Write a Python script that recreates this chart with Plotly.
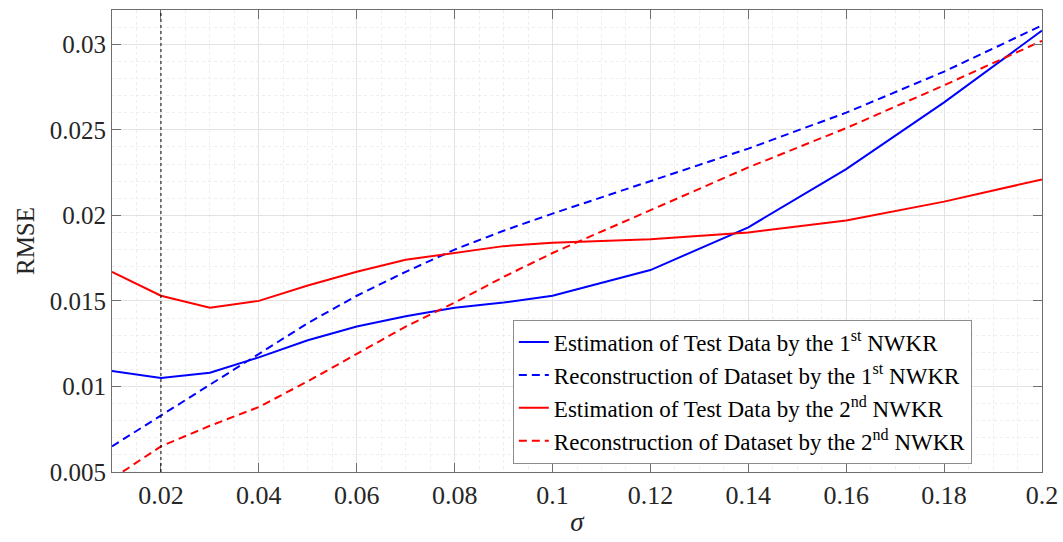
import plotly.graph_objects as go

# Kernel bandwidth values
sigma = [0.01, 0.02, 0.03, 0.04, 0.05, 0.06, 0.07, 0.08, 0.09, 0.10,
         0.12, 0.14, 0.16, 0.18, 0.20]

# RMSE of each NWKR stage
est_test_1st = [0.0109, 0.0105, 0.0108, 0.0117, 0.0127, 0.0135, 0.0141, 0.0146,
                0.0149, 0.0153, 0.0168, 0.0193, 0.0227, 0.0266, 0.0308]
recon_data_1st = [0.0065, 0.0083, 0.0101, 0.0119, 0.0137, 0.0153, 0.0167, 0.0180,
                  0.0191, 0.0201, 0.0220, 0.0239, 0.0260, 0.0284, 0.0311]
est_test_2nd = [0.0167, 0.0153, 0.0146, 0.0150, 0.0159, 0.0167, 0.0174, 0.0178,
                0.0182, 0.0184, 0.0186, 0.0190, 0.0197, 0.0208, 0.0221]
recon_data_2nd = [0.0046, 0.0065, 0.0077, 0.0088, 0.0103, 0.0119, 0.0135, 0.0149,
                  0.0164, 0.0178, 0.0203, 0.0228, 0.0251, 0.0276, 0.0302]

names = [
    "Estimation of Test Data by the 1<sup>st</sup> NWKR",
    "Reconstruction of Dataset by the 1<sup>st</sup> NWKR",
    "Estimation of Test Data by the 2<sup>nd</sup> NWKR",
    "Reconstruction of Dataset by the 2<sup>nd</sup> NWKR",
]

x_ticks = [0.02, 0.04, 0.06, 0.08, 0.10, 0.12, 0.14, 0.16, 0.18, 0.20]
x_tick_text = ["0.02", "0.04", "0.06", "0.08", "0.1", "0.12", "0.14", "0.16", "0.18", "0.2"]
y_ticks = [0.005, 0.010, 0.015, 0.020, 0.025, 0.030]
y_tick_text = ["0.005", "0.01", "0.015", "0.02", "0.025", "0.03"]

FONT = "Liberation Serif"
BLUE = "#0000ff"
RED = "#ff0000"

fig = go.Figure()
series = [
    (est_test_1st, BLUE, "solid"),
    (recon_data_1st, BLUE, "8px,5px"),
    (est_test_2nd, RED, "solid"),
    (recon_data_2nd, RED, "8px,5px"),
]
for (vals, color, dash), name in zip(series, names):
    fig.add_trace(go.Scatter(
        x=sigma, y=vals, mode="lines", name=name,
        line=dict(color=color, width=2, dash=dash),
    ))

# Selected bandwidth marker
fig.add_shape(type="line", xref="x", yref="paper", x0=0.02, x1=0.02, y0=0, y1=1,
              line=dict(color="black", width=1, dash="dot"))

axis_common = dict(
    showline=True, linecolor="#6e6e6e", linewidth=1, mirror="ticks",
    ticks="inside", ticklen=9, tickcolor="#6e6e6e", tickwidth=1,
    showgrid=True, gridcolor="#e3e3e3", gridwidth=1,
    zeroline=False,
)

fig.update_xaxes(
    range=[0.01, 0.2], tickmode="array", tickvals=x_ticks, ticktext=x_tick_text,
    tickfont=dict(family=FONT, size=26, color="#262626"),
    title=dict(text="<i>σ</i>", font=dict(family=FONT, size=27, color="#262626"), standoff=2),
    minor=dict(dtick=0.005, tick0=0, showgrid=True, gridcolor="#eeeeee",
               griddash="dot", ticks=""),
    **axis_common,
)
fig.update_yaxes(
    range=[0.005, 0.032], tickmode="array", tickvals=y_ticks, ticktext=y_tick_text,
    tickfont=dict(family=FONT, size=25, color="#262626"),
    title=dict(text="RMSE", font=dict(family=FONT, size=25, color="#262626"), standoff=8),
    minor=dict(dtick=0.001, tick0=0, showgrid=True, gridcolor="#eeeeee",
               griddash="dot", ticks=""),
    **axis_common,
)

fig.update_layout(
    template="none",
    width=1063, height=542,
    margin=dict(l=112, r=21, t=10, b=70),
    plot_bgcolor="white", paper_bgcolor="white",
    font=dict(family=FONT, size=21, color="#262626"),
    legend=dict(
        x=0.431, y=0.33, xanchor="left", yanchor="top",
        bgcolor="white", bordercolor="#8c8c8c", borderwidth=1,
        font=dict(family=FONT, size=23, color="black"),
        itemwidth=30, tracegroupgap=0,
    ),
    showlegend=True,
)

fig.write_html("out.html")
